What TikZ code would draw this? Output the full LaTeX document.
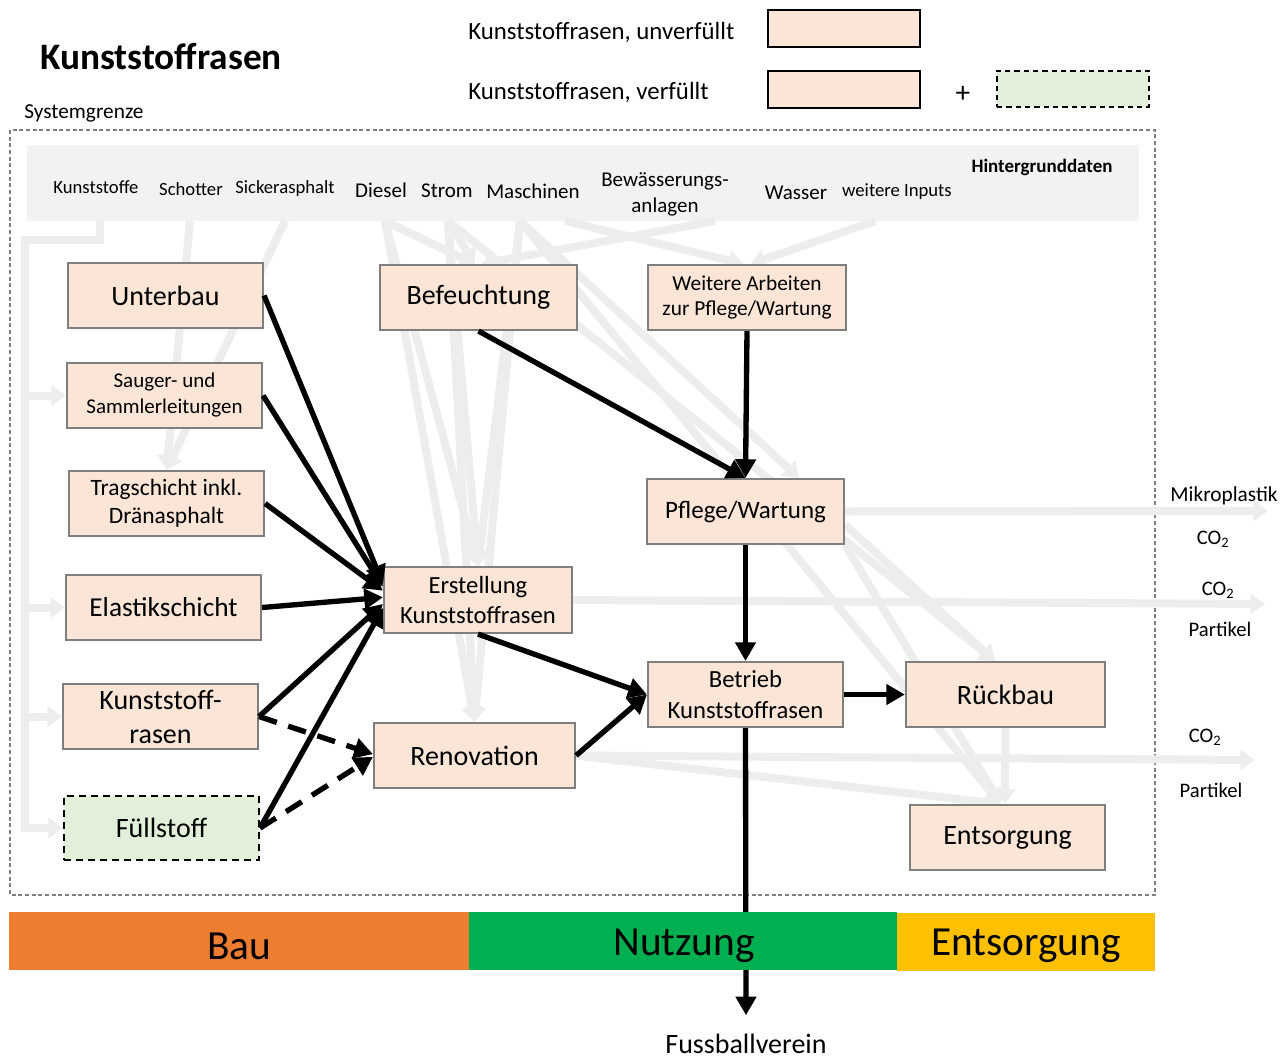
\documentclass[tikz,border=0pt]{standalone}
\usepackage{fontspec}
\setmainfont{Carlito}
\usetikzlibrary{arrows.meta,backgrounds}
\definecolor{peach}{HTML}{FBE5D6}
\definecolor{boxgray}{HTML}{7F7F7F}
\definecolor{lgreen}{HTML}{E2F0D9}
\definecolor{bargray}{HTML}{F2F2F2}
\definecolor{garr}{HTML}{EDEDED}
\definecolor{cBau}{HTML}{ED7D31}
\definecolor{cNutz}{HTML}{00B050}
\definecolor{cEnt}{HTML}{FFC000}
\begin{document}
\begin{tikzpicture}[x=0.75pt,y=-0.75pt,
  proc/.style={draw=boxgray, fill=peach, line width=1.6pt, inner sep=0pt, align=center,
     minimum width=146.25pt, minimum height=48.75pt},
  fbig/.style={font=\fontsize{21}{25.5}\selectfont},
  fmid/.style={font=\fontsize{18.5}{22}\selectfont},
  fsmall/.style={font=\fontsize{15.75}{19.5}\selectfont},
  blk/.style={draw=black, line width=4pt, -{Triangle[length=14pt,width=15pt]}},
  blkdash/.style={blk, dash pattern=on 14pt off 9pt},
  garrow/.style={draw=garr, line width=6pt, line join=miter, -{Triangle[length=11pt,width=15pt]}},
  bartxt/.style={font=\fontsize{31}{36}\selectfont, inner sep=0pt},
  toplab/.style={font=\fontsize{14}{17}\selectfont, inner sep=0pt},
  toplabb/.style={font=\fontsize{15.75}{19.5}\selectfont, inner sep=0pt, align=center},
  outlab/.style={font=\fontsize{15.5}{18}\selectfont, inner sep=0pt},
  legbox/.style={draw=black, fill=peach, line width=1.6pt, minimum width=114pt, minimum height=27.75pt, inner sep=0pt}
]
\useasboundingbox (0,0) rectangle (1288,1061);

% ---------- title & legend ----------
\node[font=\fontsize{28}{32}\selectfont\bfseries, inner sep=0pt] (title) at (161,57) {Kunststoffrasen};
\node[font=\fontsize{18.6}{22}\selectfont, anchor=west, inner sep=0pt] (legt1) at (468,32) {Kunststoffrasen, unverfüllt};
\node[font=\fontsize{18.6}{22}\selectfont, anchor=west, inner sep=0pt] (legt2) at (468,92) {Kunststoffrasen, verfüllt};
\node[legbox] (leg1) at (844,28.5) {};
\node[legbox] (leg2) at (844,89.5) {};
\node[font=\fontsize{22}{24}\selectfont, inner sep=0pt] (plus) at (963,94) {+};
\node[draw=black, fill=lgreen, line width=1.5pt, dash pattern=on 4pt off 3pt, minimum width=114pt, minimum height=27pt, inner sep=0pt] (leg3) at (1073,89) {};
\node[font=\fontsize{16}{19}\selectfont, anchor=west, inner sep=0pt] (sysg) at (24,113) {Systemgrenze};

% ---------- background data labels ----------
\node[toplab] (tK) at (96,187) {Kunststoffe};
\node[toplab] (tSch) at (191,189) {Schotter};
\node[toplab] (tSi) at (285,189) {Sickerasphalt};
\node[toplabb] (tD) at (381,190) {Diesel};
\node[toplabb] (tS) at (447,191) {Strom};
\node[toplabb] (tM) at (533,191) {Maschinen};
\node[toplabb] (tB) at (665,194) {Bewässerungs-\\anlagen};
\node[toplabb] (tW) at (796,193) {Wasser};
\node[toplab] (tI) at (897,192) {weitere Inputs};
\node[font=\fontsize{14.25}{17}\selectfont\bfseries, inner sep=0pt] (tH) at (1042,167) {Hintergrunddaten};

% ---------- process boxes ----------
\node[proc, fbig] (unterbau) at (165.5,295.5) {Unterbau};
\node[proc, fsmall] (sauger) at (164.5,395.5) {Sauger- und\\Sammlerleitungen};
\node[proc, font=\fontsize{17.6}{21}\selectfont] (trag) at (166.5,503.5) {Tragschicht inkl.\\Dränasphalt};
\node[proc, font=\fontsize{20.5}{24}\selectfont] (elastik) at (163.5,607.5) {Elastikschicht};
\node[proc, font=\fontsize{21}{25.5}\selectfont] (krasen) at (160.5,716.5) {Kunststoff-\\rasen};
\node[proc, fbig, fill=lgreen, draw=black, dash pattern=on 5pt off 4pt, minimum height=48pt] (fuell) at (161.5,828) {Füllstoff};
\node[proc, fbig, minimum width=147.75pt] (befeucht) at (478.5,297.5) {Befeuchtung};
\node[proc, font=\fontsize{16}{19}\selectfont, minimum width=148.5pt] (weitere) at (747,297.5) {Weitere Arbeiten\\zur Pflege/Wartung};
\node[proc, font=\fontsize{18.75}{22}\selectfont, minimum width=147.75pt] (pflege) at (745.5,511.5) {Pflege/Wartung};
\node[proc, fmid, minimum width=141pt, minimum height=49.5pt] (erst) at (478,600) {Erstellung\\Kunststoffrasen};
\node[proc, font=\fontsize{18.5}{23}\selectfont] (betrieb) at (745.5,694.5) {Betrieb\\Kunststoffrasen};
\node[proc, fbig, minimum width=150.75pt] (reno) at (474.5,755.5) {Renovation};
\node[proc, fbig, minimum width=149.25pt] (rueck) at (1005.5,694.5) {Rückbau};
\node[proc, fbig] (entsorg) at (1007.5,837.5) {Entsorgung};

% ---------- output labels ----------
\node[font=\fontsize{16}{19}\selectfont, inner sep=0pt] (lMik) at (1224,496) {Mikroplastik};
\node[outlab] (lCO1) at (1213,539) {CO\textsubscript{2}};
\node[outlab] (lCO2) at (1218,590) {CO\textsubscript{2}};
\node[outlab] (lPa1) at (1220,629) {Partikel};
\node[outlab] (lCO3) at (1205,737) {CO\textsubscript{2}};
\node[outlab] (lPa2) at (1211,790) {Partikel};
\node[font=\fontsize{21}{24}\selectfont, inner sep=0pt] (fuss) at (746,1044) {Fussballverein};

% ---------- named free ends ----------
\coordinate (bK) at (100,221);
\coordinate (bSch) at (190,221);
\coordinate (bSi) at (285,221);
\coordinate (bD) at (385,221);
\coordinate (bS) at (448,221);
\coordinate (bM) at (520,221);
\coordinate (bM2) at (565,221);
\coordinate (bB) at (715,221);
\coordinate (bI) at (875,221);
\coordinate (lTop) at (25,240);
\coordinate (oP) at (1268,511);
\coordinate (oE) at (1265,604);
\coordinate (oR) at (1255,760);

% ---------- background: boundary, data bar, grey flows ----------
\begin{pgfonlayer}{background}
  \fill[bargray] (27,145) rectangle (1139,221);
  \draw[boxgray, line width=1.1pt, dash pattern=on 3pt off 2pt] (10,130) rectangle (1155,895);
  % left supply line
  \draw[garrow] (bK) |- (lTop) -- (fuell.west -| lTop) -- (fuell.west);
  \draw[garrow] (sauger.west -| lTop) -- (sauger.west);
  \draw[garrow] (elastik.west -| lTop) -- (elastik.west);
  \draw[garrow] (krasen.west -| lTop) -- (krasen.west);
  % Schotter, Sickerasphalt -> Tragschicht
  \draw[garrow] (bSch) -- (trag.north);
  \draw[garrow] (bSi) -- (trag.north);
  % Diesel, Strom, Maschinen
  \draw[garrow] (bD) -- ([xshift=-3pt]befeucht.north);
  \draw[garrow] (bS) -- ([xshift=-3pt]befeucht.north);
  \draw[garrow] (bB) -- ([xshift=2pt]befeucht.north);
  \draw[garrow] (bD) -- (erst.north);
  \draw[garrow] (bS) -- (erst.north);
  \draw[garrow] (bM) -- (erst.north);
  \draw[garrow] (bD) -- (reno.north);
  \draw[garrow] (bS) -- (reno.north);
  \draw[garrow] (bM) -- (reno.north);
  \draw[garrow] (bM2) -- ([xshift=-3pt]weitere.north);
  \draw[garrow] (bI) -- ([xshift=3pt]weitere.north);
  \draw[garrow] (bM) -- ([xshift=40pt]pflege.north);
  \draw[garrow] (bS) -- ([xshift=-8pt]rueck.north);
  \draw[garrow] (bM) -- ([xshift=-5pt]entsorg.north);
  \draw[garrow] ([yshift=-10pt]pflege.east) -- ([xshift=-8pt]rueck.north);
  \draw[garrow] (pflege.south east) -- ([xshift=-5pt]entsorg.north);
  \draw[garrow] (reno.east) -- ([xshift=-5pt]entsorg.north);
  \draw[garrow] (rueck.south) -- ([xshift=-2pt]entsorg.north);
  % outputs
  \draw[garrow] (pflege.east) -- (oP);
  \draw[garrow] (erst.east) -- (oE);
  \draw[garrow] (reno.east) -- (oR);
\end{pgfonlayer}

% ---------- black flows ----------
\draw[blk] (unterbau.east) -- ([yshift=12pt]erst.west);
\draw[blk] (sauger.east) -- ([yshift=10pt]erst.west);
\draw[blk] (trag.east) -- ([yshift=7pt]erst.west);
\draw[blk] (elastik.east) -- ([yshift=2pt]erst.west);
\draw[blk] (krasen.east) -- ([yshift=-3pt]erst.west);
\draw[blk] (fuell.east) -- ([yshift=-6pt]erst.west);
\draw[blkdash] (krasen.east) -- ([yshift=1pt]reno.west);
\draw[blkdash] (fuell.east) -- ([yshift=-1pt]reno.west);
\draw[blk] (befeucht.south) -- (pflege.north);
\draw[blk] (weitere.south) -- (pflege.north);
\draw[blk] (pflege.south) -- (betrieb.north);
\draw[blk] (erst.south) -- (betrieb.west);
\draw[blk] (reno.east) -- (betrieb.west);
\draw[blk] (betrieb.east) -- (rueck.west);
\draw[blk] (betrieb.south) -- ([yshift=14pt]fuss.north);

% ---------- phase bars ----------
\fill[cBau] (9,912) rectangle (469,970);
\fill[cNutz] (469,912) rectangle (897,970);
\fill[cEnt] (897,913) rectangle (1155,971);
\node[bartxt] (pBau) at (239,946) {Bau};
\node[bartxt] (pNutz) at (684,946) {Nutzung};
\node[bartxt] (pEnt) at (1026,946) {Entsorgung};
\end{tikzpicture}
\end{document}
